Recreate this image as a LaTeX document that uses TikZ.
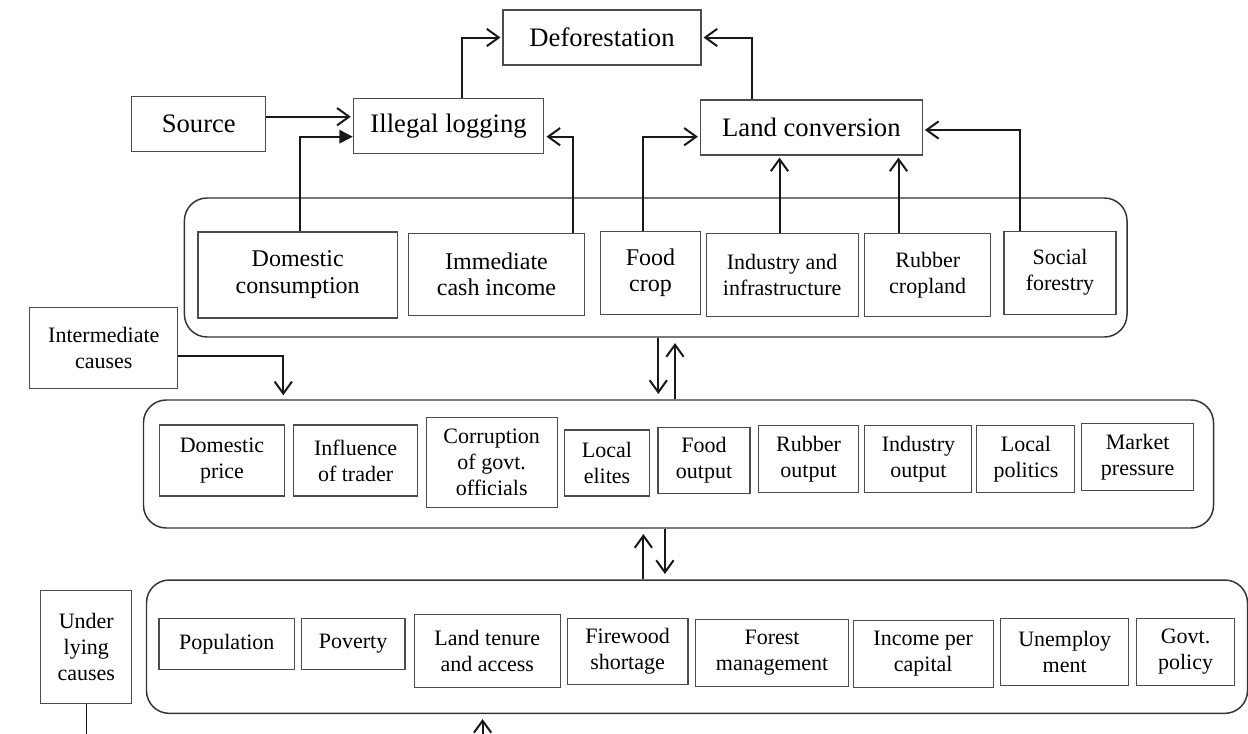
\documentclass[tikz,border=0pt]{standalone}
\usepackage{fontspec}
\setmainfont{Liberation Serif}
\usetikzlibrary{arrows.meta}
\newcommand\fA{\fontsize{20}{24}\selectfont}
\newcommand\fB{\fontsize{18}{20}\selectfont}
\newcommand\fC{\fontsize{16.5}{19.5}\selectfont}
\tikzset{
  bx/.style={draw=black!70, line width=0.8pt, inner sep=0pt, align=center, font=\fC},
  tbx/.style={bx, font=\fA},
  panel/.style={draw=black!80, line width=1.1pt, rounded corners=17pt, inner sep=0pt},
  ln/.style={draw=black!90, line width=1.5pt},
  arr/.style={ln, -{Straight Barb[length=9pt,width=13pt,line width=1.5pt]}, shorten >=1.5pt},
  arrF/.style={ln, line width=1.6pt, -{Triangle[length=10pt,width=10pt]}}
}
\begin{document}
\begin{tikzpicture}[x=0.75pt,y=-0.75pt]
\useasboundingbox (0,0) rectangle (1248,733);
\fill[white] (0,0) rectangle (1248,733);

% top level
\node[tbx, minimum width=0.75*198pt, minimum height=0.75*55pt] (def) at (602,37.5) {Deforestation};
\node[tbx, minimum width=0.75*134pt, minimum height=0.75*55pt] (src) at (198.8,124.2) {Source};
\node[tbx, minimum width=0.75*190.6pt, minimum height=0.75*55pt] (il) at (448.6,125.8) {Illegal logging};
\node[tbx, minimum width=0.75*222pt, minimum height=0.75*55pt] (lc) at (811.4,127.5) {Land conversion};

% panels
\node[panel, minimum width=0.75*942.6pt, minimum height=0.75*139pt] (p1) at (655.7,267.5) {};
\node[panel, minimum width=0.75*1070pt, minimum height=0.75*128pt] (p2) at (678.5,464) {};
\node[panel, minimum width=0.75*1101pt, minimum height=0.75*133.3pt] (p3) at (697,646.7) {};

% top panel boxes
\node[bx, line width=1.3pt, font=\fB, minimum width=0.75*199.8pt, minimum height=0.75*86pt] (dc) at (297.7,274.7) {Domestic\\consumption};
\node[bx, font=\fB, minimum width=0.75*175.7pt, minimum height=0.75*81.7pt] (ici) at (496.5,274.2) {Immediate\\cash income};
\node[bx, font=\fB, minimum width=0.75*99.5pt, minimum height=0.75*83.3pt] (fc) at (650.5,272.7) {Food\\crop};
\node[bx, minimum width=0.75*152pt, minimum height=0.75*82.7pt] (ii) at (782.2,274.7) {Industry and\\infrastructure};
\node[bx, minimum width=0.75*125.6pt, minimum height=0.75*82.7pt] (rc) at (927.7,274.7) {Rubber\\cropland};
\node[bx, minimum width=0.75*112pt, minimum height=0.75*83.3pt] (sf) at (1060,272.7) {Social\\forestry};

% intermediate
\node[bx, minimum width=0.75*147.7pt, minimum height=0.75*81pt] (ic) at (103.8,348.3) {Intermediate\\causes};
\node[bx, minimum width=0.75*124.4pt, minimum height=0.75*71pt] (dp) at (222,460.5) {Domestic\\price};
\node[bx, minimum width=0.75*124.4pt, minimum height=0.75*71pt] (it) at (355.6,460.5) {Influence\\of trader};
\node[bx, minimum width=0.75*131.2pt, minimum height=0.75*90pt] (cg) at (491.7,462.3) {Corruption\\of govt.\\officials};
\node[bx, minimum width=0.75*85.3pt, minimum height=0.75*66pt] (le) at (607,463) {Local\\elites};
\node[bx, minimum width=0.75*92pt, minimum height=0.75*66pt] (fo) at (704,460.3) {Food\\output};
\node[bx, minimum width=0.75*99.6pt, minimum height=0.75*66.7pt] (ro) at (808.5,459) {Rubber\\output};
\node[bx, minimum width=0.75*107pt, minimum height=0.75*66.7pt] (io) at (918.4,459) {Industry\\output};
\node[bx, minimum width=0.75*97.9pt, minimum height=0.75*66.7pt] (lp) at (1025.9,459) {Local\\politics};
\node[bx, minimum width=0.75*112.4pt, minimum height=0.75*66.7pt] (mp) at (1137.6,457.3) {Market\\pressure};

% underlying
\node[bx, minimum width=0.75*91.3pt, minimum height=0.75*112.7pt] (uc) at (86.3,647) {Under\\lying\\causes};
\node[bx, minimum width=0.75*135.6pt, minimum height=0.75*51pt] (pop) at (226.8,643.8) {Population};
\node[bx, minimum width=0.75*103.8pt, minimum height=0.75*51pt] (pov) at (353.1,643.8) {Poverty};
\node[bx, minimum width=0.75*145.7pt, minimum height=0.75*73.3pt] (lt) at (487.3,650.7) {Land tenure\\and access};
\node[bx, minimum width=0.75*120.8pt, minimum height=0.75*66pt] (fw) at (627.6,651.3) {Firewood\\shortage};
\node[bx, minimum width=0.75*152.4pt, minimum height=0.75*66.7pt] (fm) at (772.1,652.7) {Forest\\management};
\node[bx, minimum width=0.75*139.7pt, minimum height=0.75*66.7pt] (ipc) at (923.2,654) {Income per\\capital};
\node[bx, minimum width=0.75*127.7pt, minimum height=0.75*66.7pt] (un) at (1064.7,651.7) {Unemploy\\ment};
\node[bx, minimum width=0.75*98.3pt, minimum height=0.75*66.7pt] (gp) at (1185.5,651.7) {Govt.\\policy};

% connectors top
\draw[arr] (il.north -| 462,0) |- (def.west);
\draw[arr] (lc.north -| 752,0) |- (def.east);
\draw[arr] (src.east |- 0,116.7) -- (il.west |- 0,116.7);
\draw[arrF] (dc.north -| 300,0) |- (il.west |- 0,136.7);
\draw[arr] (ici.north -| 573,0) |- (il.east |- 0,136.7);
\draw[arr] (fc.north -| 643,0) |- (lc.west |- 0,136.7);
\draw[arr] (ii.north -| 779.5,0) -- (lc.south -| 779.5,0);
\draw[arr] (rc.north -| 898.5,0) -- (lc.south -| 898.5,0);
\draw[arr] (sf.north -| 1020.3,0) |- (lc.east |- 0,130);

% between panels
\draw[arr, shorten >=4pt] (p1.south -| 658.3,0) -- (p2.north -| 658.3,0);
\draw[arr, shorten >=4pt] (p2.north -| 675,0) -- (p1.south -| 675,0);
\draw[arr, shorten >=3pt] (ic.east |- 0,356) -| (p2.north -| 283.3,0);
\draw[arr, shorten >=4pt] (p3.north -| 643.4,0) -- (p2.south -| 643.4,0);
\draw[arr, shorten >=4pt] (p2.south -| 664.9,0) -- (p3.north -| 664.9,0);

% bottom free ends
\coordinate (ucE) at (86.3,740);
\draw[ln, line width=1.1pt] (uc.south) -- (uc.south |- ucE);
\coordinate (bs) at (482.6,740);
\coordinate (bt) at (482.6,719);
\draw[arr, shorten >=0pt] (bs) -- (bt);
\end{tikzpicture}
\end{document}
